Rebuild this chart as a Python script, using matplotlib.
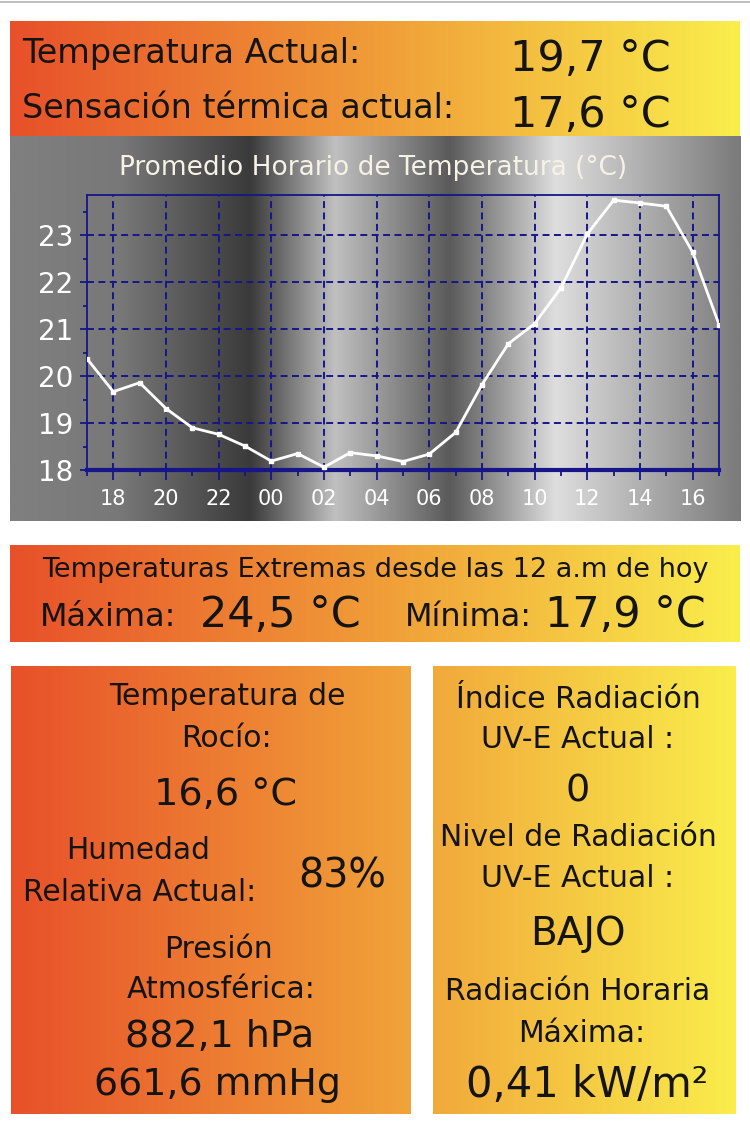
import matplotlib.pyplot as plt
import numpy as np

plt.rcParams['font.family'] = ['DejaVu Sans']
plt.rcParams['lines.scale_dashes'] = False

# hourly average temperature, from 17h yesterday to 17h today
hours = [17, 18, 19, 20, 21, 22, 23, 0, 1, 2, 3, 4, 5, 6, 7, 8, 9, 10, 11, 12, 13, 14, 15, 16, 17]
temps = [20.37, 19.67, 19.86, 19.31, 18.90, 18.76, 18.51, 18.19, 18.35, 18.06, 18.37, 18.30,
         18.18, 18.34, 18.80, 19.82, 20.69, 21.12, 21.88, 23.03, 23.75, 23.69, 23.62, 22.64, 21.10]
y_ticks = [18, 19, 20, 21, 22, 23]

temp_actual = '19,7 °C'
sensacion = '17,6 °C'
t_max = '24,5 °C'
t_min = '17,9 °C'
rocio = '16,6 °C'
humedad = '83%'
presion = ['882,1 hPa', '661,6 mmHg']
uv_indice = '0'
uv_nivel = 'BAJO'
rad_max = '0,41 kW/m²'

W, H = 750, 1132
ink = '#141414'
navy = '#16168a'

fig = plt.figure(figsize=(W / 100, H / 100), dpi=100)
fig.patch.set_facecolor('white')
bg = fig.add_axes([0, 0, 1, 1])
bg.axis('off')


def warm_box(x0, y0, x1, y1):
    xs = np.linspace(x0, x1, 400)
    r = np.interp(xs, [10, 420, 740], [232, 241, 250])
    g = np.interp(xs, [10, 420, 740], [80, 166, 238])
    b = np.interp(xs, [10, 420, 740], [42, 58, 76])
    img = np.stack([r, g, b], axis=-1)[None, :, :] / 255
    bg.imshow(img, extent=(x0, x1, y1, y0), aspect='auto', interpolation='bilinear', zorder=0)


def gray_box(x0, y0, x1, y1):
    xs = np.linspace(x0, x1, 600)
    v = np.interp(xs, [10, 120, 250, 335, 450, 556, 741],
                  [128, 120, 58, 192, 90, 222, 122])
    img = np.stack([v, v, v], axis=-1)[None, :, :] / 255
    bg.imshow(img, extent=(x0, x1, y1, y0), aspect='auto', interpolation='bilinear', zorder=0)


bg.axhline(2, color='#b4b4b4', lw=1.2)

# top box: current temperature
warm_box(10, 21, 740, 136)
bg.text(22, 63, 'Temperatura Actual:', fontsize=24, color=ink)
bg.text(510, 71, temp_actual, fontsize=31, color=ink)
bg.text(22, 118, 'Sensación térmica actual:', fontsize=24, color=ink)
bg.text(510, 127, sensacion, fontsize=31, color=ink)

# chart panel
gray_box(10, 136, 741, 521)
bg.text(373, 175, 'Promedio Horario de Temperatura (°C)', ha='center',
        fontsize=19, color='#f6f2e6')

# extremes
warm_box(10, 545, 740, 642)
bg.text(42, 577, 'Temperaturas Extremas desde las 12 a.m de hoy', fontsize=19.5, color=ink)
bg.text(40, 626, 'Máxima:', fontsize=23, color=ink)
bg.text(200, 627, t_max, fontsize=31, color=ink)
bg.text(405, 626, 'Mínima:', fontsize=23, color=ink)
bg.text(545, 627, t_min, fontsize=31, color=ink)

# bottom left box
warm_box(11, 666, 411, 1114)
left_texts = [
    ('Temperatura de', 227, 705, 21.5),
    ('Rocío:', 226, 747, 21.5),
    (rocio, 226, 805, 27.5),
    ('Humedad', 138, 859, 21.3),
    ('Relativa Actual:', 140, 901, 21.5),
    (humedad, 342, 888, 28.5),
    ('Presión', 218, 958, 21.5),
    ('Atmosférica:', 221, 998, 21.5),
    (presion[0], 220, 1047, 27.3),
    (presion[1], 217, 1095, 27.3),
]
for s, x, y, fs in left_texts:
    bg.text(x, y, s, ha='center', fontsize=fs, color=ink)

# bottom right box
warm_box(433, 666, 736, 1114)
right_texts = [
    ('Índice Radiación', 578, 708, 21.5),
    ('UV-E Actual :', 578, 748, 21.5),
    (uv_indice, 578, 802, 27.5),
    ('Nivel de Radiación', 578, 846, 21.5),
    ('UV-E Actual :', 578, 887, 21.5),
    (uv_nivel, 578, 945, 28),
    ('Radiación Horaria', 578, 1000, 21.5),
    ('Máxima:', 582, 1042, 21.5),
    (rad_max, 587, 1097, 30),
]
for s, x, y, fs in right_texts:
    bg.text(x, y, s, ha='center', fontsize=fs, color=ink)

bg.set_xlim(0, W)
bg.set_ylim(H, 0)

# the line chart
ax = fig.add_axes([87 / W, 1 - 470 / H, 632 / W, 275 / H])
ax.patch.set_alpha(0)
x = np.arange(len(temps))
ax.plot(x, temps, color='white', lw=2, marker='s', ms=2.5, zorder=3)
ax.set_xlim(0, len(temps) - 1)
ax.set_ylim(18, 23.86)

major_x = [i for i, h in enumerate(hours) if h % 2 == 0]
ax.set_xticks(major_x)
ax.set_xticklabels([f'{hours[i]:02d}' for i in major_x])
ax.set_xticks(x, minor=True)
ax.set_yticks(y_ticks)
ax.set_yticklabels([str(v) for v in y_ticks])
ax.set_yticks([v + 0.5 for v in y_ticks], minor=True)

ax.grid(which='major', color=navy, ls=(0, (5, 3.2)), lw=1.4)
for side in ax.spines.values():
    side.set_color(navy)
    side.set_linewidth(1.3)
ax.spines['bottom'].set_linewidth(3)

ax.tick_params(axis='x', which='major', direction='out', length=7, width=1.3,
               color=navy, labelcolor='white', labelsize=15, pad=7)
ax.tick_params(axis='x', which='minor', direction='out', length=4, width=1.3, color=navy)
ax.tick_params(axis='y', which='major', direction='out', length=5, width=1.3,
               color=navy, labelcolor='white', labelsize=20, pad=5)
ax.tick_params(axis='y', which='minor', direction='out', length=3, width=1.3, color=navy)

fig.savefig('out.png', dpi=100)
